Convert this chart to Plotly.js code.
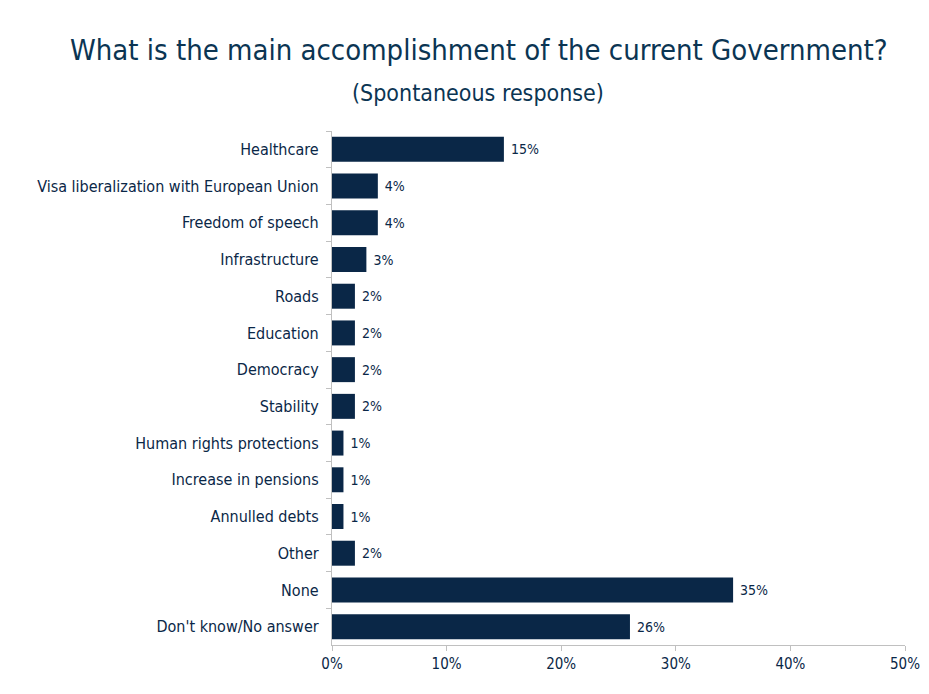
<!DOCTYPE html>
<html><head><meta charset="utf-8">
<script src="https://cdn.plot.ly/plotly-3.0.1.min.js"></script>
<style>body{margin:0;background:#fff}#chart{width:929px;height:694px}</style>
</head><body><div id="chart"></div>
<script>
const categories = ["Healthcare","Visa liberalization with European Union","Freedom of speech","Infrastructure","Roads","Education","Democracy","Stability","Human rights protections","Increase in pensions","Annulled debts","Other","None","Don't know/No answer"];
const values = [15,4,4,3,2,2,2,2,1,1,1,2,35,26];
const xTicks = [0,10,20,30,40,50];
const xTickLabels = ["0%","10%","20%","30%","40%","50%"];
const titleText = "What is the main accomplishment of the current Government?";
const subtitleText = "(Spontaneous response)";

const font = "'DejaVu Sans Condensed', 'DejaVu Sans', sans-serif";
const navy = "#0a2747";
Plotly.newPlot("chart", [{
  type: "bar", orientation: "h",
  x: values, y: categories,
  marker: {color: navy},
  text: values.map(v => "\u00a0" + v + "%"), textposition: "outside",
  textfont: {family: font, size: 14, color: navy},
  cliponaxis: false, width: 0.68, hoverinfo: "none"
}], {
  width: 929, height: 694,
  margin: {l: 332, r: 24, t: 131, b: 49},
  paper_bgcolor: "#fff", plot_bgcolor: "#fff",
  annotations: [
    {text: titleText, xref: "paper", yref: "paper", x: 0.2557, xanchor: "center", y: 1.1576, yanchor: "middle", showarrow: false,
     font: {family: font, size: 29, color: "#0b3553"}},
    {text: subtitleText, xref: "paper", yref: "paper", x: 0.255, xanchor: "center", y: 1.074, yanchor: "middle", showarrow: false,
     font: {family: font, size: 23, color: "#0b3553"}}
  ],
  xaxis: {range: [0, 50], tickvals: xTicks, ticktext: xTickLabels, showgrid: false, zeroline: false,
    showline: true, linecolor: "#c0c0c0", linewidth: 1, ticks: "outside", ticklen: 5, tickcolor: "#c0c0c0",
    tickfont: {family: font, size: 15, color: navy}},
  yaxis: {autorange: "reversed", showgrid: false, showline: true, linecolor: "#c0c0c0", linewidth: 1,
    ticks: "outside", tickson: "boundaries", ticklen: 5, tickcolor: "#c0c0c0",
    tickfont: {family: font, size: 16, color: navy}, ticksuffix: "  "},
  showlegend: false
}, {displayModeBar: false, staticPlot: true});
</script></body></html>
